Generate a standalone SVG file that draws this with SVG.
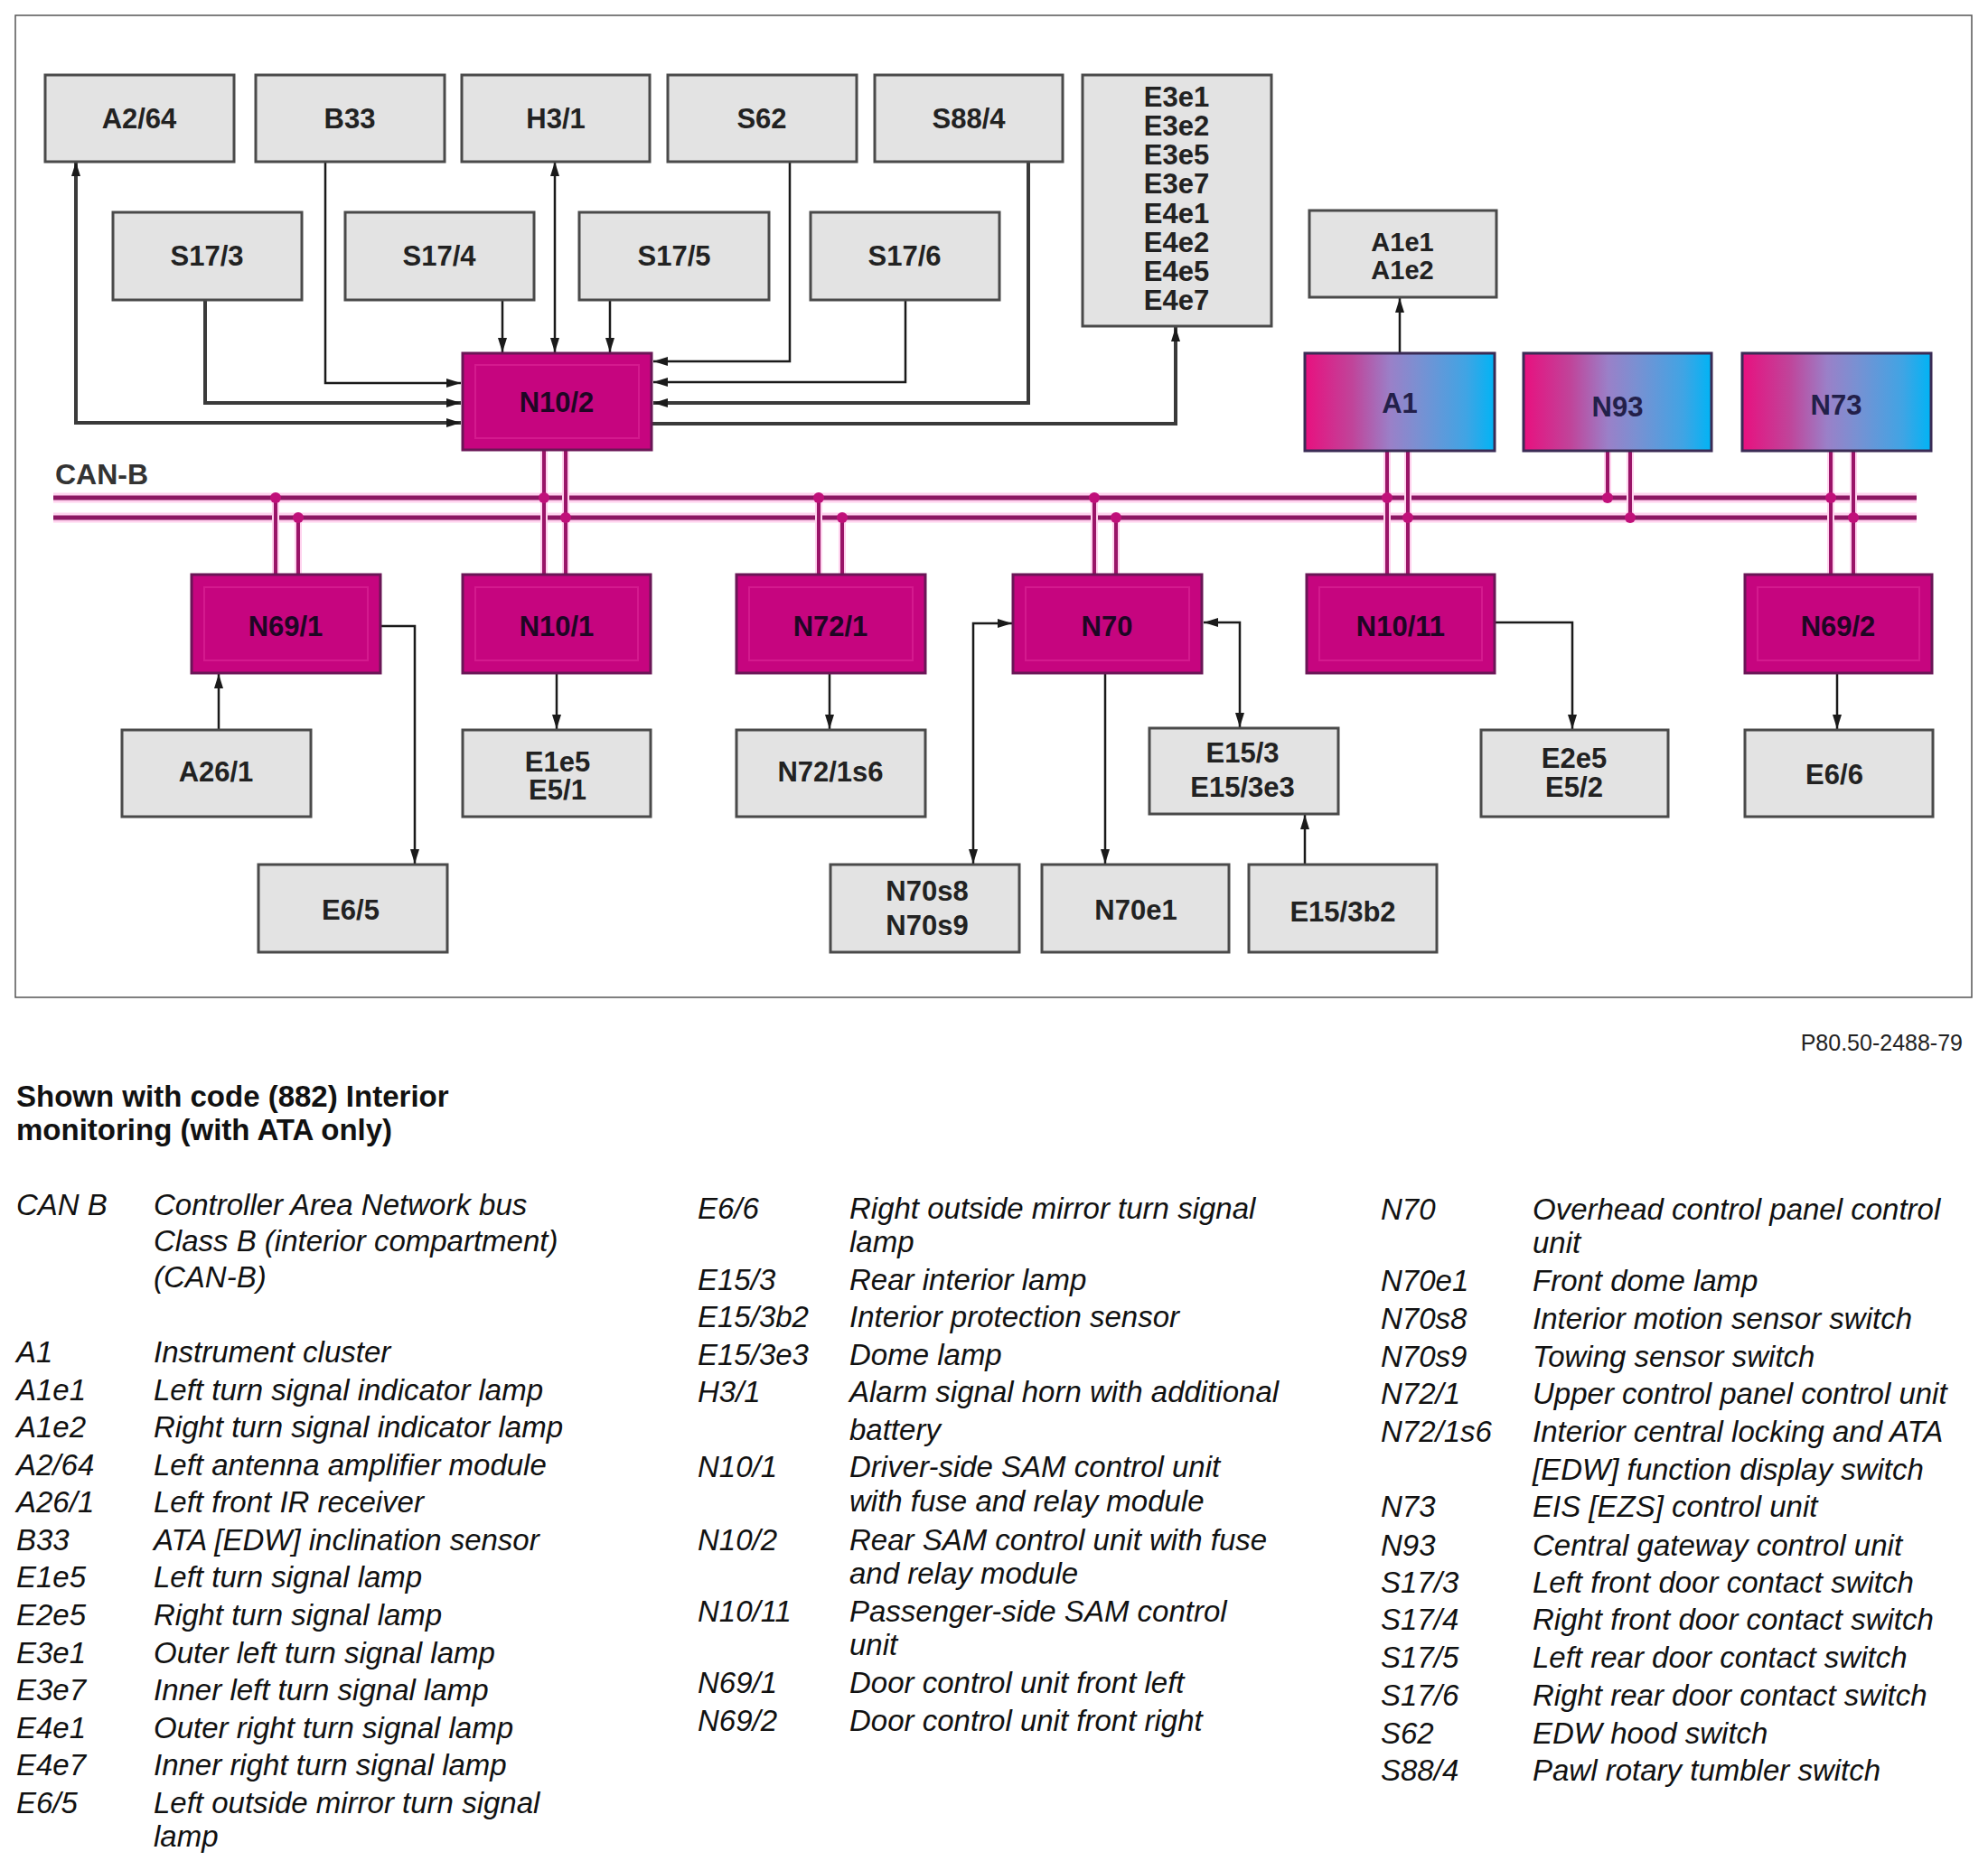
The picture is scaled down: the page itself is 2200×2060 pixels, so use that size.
<svg xmlns="http://www.w3.org/2000/svg" width="2200" height="2060" viewBox="0 0 2200 2060">
<style>
.g{fill:#e3e3e3;stroke:#4a4a4a;stroke-width:3}
.m{fill:#c6057f;stroke:#6a1656;stroke-width:3}
.mi{fill:none;stroke:#e2309e;stroke-width:2;opacity:0.5}
.gr{fill:url(#grad);stroke:#3a2b55;stroke-width:3}
.lbl{font-family:"Liberation Sans",Arial,sans-serif;font-weight:bold;font-size:31px;text-anchor:middle;fill:#222}
.c{fill:none;stroke:#1a1a1a;stroke-width:2.5}
.ct{fill:none;stroke:#3a3a3a;stroke-width:4}
.halo{stroke:#ffd2ee;stroke-width:11;fill:none}
.bus{stroke:#8c1763;stroke-width:5;fill:none}
.vh{stroke:#ffd2ee;stroke-width:8;fill:none}
.v{stroke:#9a1468;stroke-width:4;fill:none}
.dot{fill:#c0107a}
.leg{font-family:"Liberation Sans",Arial,sans-serif;font-style:italic;font-size:33px;fill:#111}
.ttl{font-family:"Liberation Sans",Arial,sans-serif;font-weight:bold;font-size:33px;fill:#111}
</style>
<defs>
<linearGradient id="grad" x1="0" y1="0" x2="1" y2="0">
<stop offset="0" stop-color="#e8107f"/>
<stop offset="0.25" stop-color="#c0449a"/>
<stop offset="0.45" stop-color="#9a80c8"/>
<stop offset="0.6" stop-color="#7a90d2"/>
<stop offset="0.85" stop-color="#40a4e4"/>
<stop offset="1" stop-color="#00b4f5"/>
</linearGradient>
<marker id="arr" viewBox="0 0 16 10" refX="16" refY="5" markerWidth="16" markerHeight="10" markerUnits="userSpaceOnUse" orient="auto-start-reverse">
<path d="M0,0 L16,5 L0,10 Z" fill="#1a1a1a"/>
</marker>
</defs>
<rect x="0" y="0" width="2200" height="2060" fill="#ffffff"/>
<rect x="17" y="17" width="2165" height="1087" fill="none" stroke="#555" stroke-width="1.5"/>

<g id="can-bus">
<line class="halo" x1="59" y1="551" x2="2121" y2="551"/>
<line class="halo" x1="59" y1="573" x2="2121" y2="573"/>
<line class="bus" x1="59" y1="551" x2="2121" y2="551"/>
<line class="bus" x1="59" y1="573" x2="2121" y2="573"/>
<text x="61" y="536" class="lbl" style="text-anchor:start;font-size:32px;fill:#333">CAN-B</text>
</g>

<g id="bus-taps">
<path class="vh" d="M305,551V636M330,573V636M602,498V636M626,498V636M906,551V636M932,573V636M1211,551V636M1235,573V636M1535,500V636M1558,500V636M1779,500V551M1804,500V573M2026,500V636M2051,500V636"/>
<path class="v" d="M305,551V636M330,573V636M602,498V636M626,498V636M906,551V636M932,573V636M1211,551V636M1235,573V636M1535,500V636M1558,500V636M1779,500V551M1804,500V573M2026,500V636M2051,500V636"/>
<circle class="dot" cx="305" cy="551" r="6"/><circle class="dot" cx="330" cy="573" r="6"/>
<circle class="dot" cx="602" cy="551" r="6"/><circle class="dot" cx="626" cy="573" r="6"/>
<circle class="dot" cx="906" cy="551" r="6"/><circle class="dot" cx="932" cy="573" r="6"/>
<circle class="dot" cx="1211" cy="551" r="6"/><circle class="dot" cx="1235" cy="573" r="6"/>
<circle class="dot" cx="1535" cy="551" r="6"/><circle class="dot" cx="1558" cy="573" r="6"/>
<circle class="dot" cx="1779" cy="551" r="6"/><circle class="dot" cx="1804" cy="573" r="6"/>
<circle class="dot" cx="2026" cy="551" r="6"/><circle class="dot" cx="2051" cy="573" r="6"/>
</g>

<g id="connectors">
<path class="ct" d="M84,179 V468 H510" marker-start="url(#arr)" marker-end="url(#arr)"/>
<path class="c" d="M360,179 V424 H510" marker-end="url(#arr)"/>
<path class="ct" d="M227,332 V446 H510" marker-end="url(#arr)"/>
<path class="c" d="M556,332 V390" marker-end="url(#arr)"/>
<path class="c" d="M614,179 V390" marker-start="url(#arr)" marker-end="url(#arr)"/>
<path class="c" d="M675,332 V390" marker-end="url(#arr)"/>
<path class="c" d="M874,179 V400 H723" marker-end="url(#arr)"/>
<path class="c" d="M1002,332 V423 H723" marker-end="url(#arr)"/>
<path class="ct" d="M1138,179 V446 H723" marker-end="url(#arr)"/>
<path class="ct" d="M722,469 H1301 V362" marker-end="url(#arr)"/>
<path class="c" d="M1549,391 V330" marker-end="url(#arr)"/>
<path class="c" d="M242,808 V746" marker-end="url(#arr)"/>
<path class="c" d="M422,693 H459 V956" marker-end="url(#arr)"/>
<path class="c" d="M616,745 V807" marker-end="url(#arr)"/>
<path class="c" d="M918,745 V807" marker-end="url(#arr)"/>
<path class="c" d="M1120,690 H1077 V956" marker-start="url(#arr)" marker-end="url(#arr)"/>
<path class="c" d="M1223,745 V956" marker-end="url(#arr)"/>
<path class="c" d="M1332,689 H1372 V805" marker-start="url(#arr)" marker-end="url(#arr)"/>
<path class="c" d="M1444,957 V902" marker-end="url(#arr)"/>
<path class="c" d="M1655,689 H1740 V807" marker-end="url(#arr)"/>
<path class="c" d="M2033,745 V807" marker-end="url(#arr)"/>
</g>

<g id="A2-64"><rect class="g" x="50" y="83" width="209" height="96"/><text class="lbl" x="154" y="142">A2/64</text></g>
<g id="B33"><rect class="g" x="283" y="83" width="209" height="96"/><text class="lbl" x="387" y="142">B33</text></g>
<g id="H3-1"><rect class="g" x="511" y="83" width="208" height="96"/><text class="lbl" x="615" y="142">H3/1</text></g>
<g id="S62"><rect class="g" x="739" y="83" width="209" height="96"/><text class="lbl" x="843" y="142">S62</text></g>
<g id="S88-4"><rect class="g" x="968" y="83" width="208" height="96"/><text class="lbl" x="1072" y="142">S88/4</text></g>
<g id="E3e1-group"><rect class="g" x="1198" y="83" width="209" height="278"/>
<text class="lbl" x="1302" y="118">E3e1</text>
<text class="lbl" x="1302" y="150">E3e2</text>
<text class="lbl" x="1302" y="182">E3e5</text>
<text class="lbl" x="1302" y="214">E3e7</text>
<text class="lbl" x="1302" y="247">E4e1</text>
<text class="lbl" x="1302" y="279">E4e2</text>
<text class="lbl" x="1302" y="311">E4e5</text>
<text class="lbl" x="1302" y="343">E4e7</text>
</g>

<g id="S17-3"><rect class="g" x="125" y="235" width="209" height="97"/><text class="lbl" x="229" y="294">S17/3</text></g>
<g id="S17-4"><rect class="g" x="382" y="235" width="209" height="97"/><text class="lbl" x="486" y="294">S17/4</text></g>
<g id="S17-5"><rect class="g" x="641" y="235" width="210" height="97"/><text class="lbl" x="746" y="294">S17/5</text></g>
<g id="S17-6"><rect class="g" x="897" y="235" width="209" height="97"/><text class="lbl" x="1001" y="294">S17/6</text></g>

<g id="A1e1-group"><rect class="g" x="1449" y="233" width="207" height="96"/>
<text class="lbl" x="1552" y="278" style="font-size:29px">A1e1</text><text class="lbl" x="1552" y="309" style="font-size:29px">A1e2</text></g>

<g id="N10-2"><rect class="m" x="512" y="391" width="209" height="107"/><rect class="mi" x="526" y="404" width="181" height="81"/><text class="lbl" x="616" y="456" fill="#1e0624" style="fill:#1e0624">N10/2</text></g>
<g id="A1"><rect class="gr" x="1444" y="391" width="210" height="108"/><text class="lbl" x="1549" y="457" style="fill:#23204a">A1</text></g>
<g id="N93"><rect class="gr" x="1686" y="391" width="208" height="108"/><text class="lbl" x="1790" y="461" style="fill:#23204a">N93</text></g>
<g id="N73"><rect class="gr" x="1928" y="391" width="209" height="108"/><text class="lbl" x="2032" y="459" style="fill:#23204a">N73</text></g>

<g id="N69-1"><rect class="m" x="212" y="636" width="209" height="109"/><rect class="mi" x="226" y="650" width="181" height="81"/><text class="lbl" x="316" y="704" style="fill:#1e0624">N69/1</text></g>
<g id="N10-1"><rect class="m" x="512" y="636" width="208" height="109"/><rect class="mi" x="526" y="650" width="180" height="81"/><text class="lbl" x="616" y="704" style="fill:#1e0624">N10/1</text></g>
<g id="N72-1"><rect class="m" x="815" y="636" width="209" height="109"/><rect class="mi" x="829" y="650" width="181" height="81"/><text class="lbl" x="919" y="704" style="fill:#1e0624">N72/1</text></g>
<g id="N70"><rect class="m" x="1121" y="636" width="209" height="109"/><rect class="mi" x="1135" y="650" width="181" height="81"/><text class="lbl" x="1225" y="704" style="fill:#1e0624">N70</text></g>
<g id="N10-11"><rect class="m" x="1446" y="636" width="208" height="109"/><rect class="mi" x="1460" y="650" width="180" height="81"/><text class="lbl" x="1550" y="704" style="fill:#1e0624">N10/11</text></g>
<g id="N69-2"><rect class="m" x="1931" y="636" width="207" height="109"/><rect class="mi" x="1945" y="650" width="179" height="81"/><text class="lbl" x="2034" y="704" style="fill:#1e0624">N69/2</text></g>

<g id="A26-1"><rect class="g" x="135" y="808" width="209" height="96"/><text class="lbl" x="239" y="865">A26/1</text></g>
<g id="E1e5-group"><rect class="g" x="512" y="808" width="208" height="96"/><text class="lbl" x="617" y="854">E1e5</text><text class="lbl" x="617" y="885">E5/1</text></g>
<g id="N72-1s6"><rect class="g" x="815" y="808" width="209" height="96"/><text class="lbl" x="919" y="865">N72/1s6</text></g>
<g id="E15-3-group"><rect class="g" x="1272" y="806" width="209" height="95"/><text class="lbl" x="1375" y="844">E15/3</text><text class="lbl" x="1375" y="882">E15/3e3</text></g>
<g id="E2e5-group"><rect class="g" x="1639" y="808" width="207" height="96"/><text class="lbl" x="1742" y="850">E2e5</text><text class="lbl" x="1742" y="882">E5/2</text></g>
<g id="E6-6"><rect class="g" x="1931" y="808" width="208" height="96"/><text class="lbl" x="2030" y="868">E6/6</text></g>

<g id="E6-5"><rect class="g" x="286" y="957" width="209" height="97"/><text class="lbl" x="388" y="1018">E6/5</text></g>
<g id="N70s8-group"><rect class="g" x="919" y="957" width="209" height="97"/><text class="lbl" x="1026" y="997">N70s8</text><text class="lbl" x="1026" y="1035">N70s9</text></g>
<g id="N70e1"><rect class="g" x="1153" y="957" width="207" height="97"/><text class="lbl" x="1257" y="1018">N70e1</text></g>
<g id="E15-3b2"><rect class="g" x="1382" y="957" width="208" height="97"/><text class="lbl" x="1486" y="1020">E15/3b2</text></g>

<g id="legend">
<text x="2172" y="1163" style="font-family:'Liberation Sans',Arial,sans-serif;font-size:25px;fill:#222;text-anchor:end">P80.50-2488-79</text>
<text class="ttl" x="18" y="1225">Shown with code (882) Interior</text>
<text class="ttl" x="18" y="1262">monitoring (with ATA only)</text>

<text class="leg" x="18" y="1345">CAN B</text>
<text class="leg" x="170" y="1345">Controller Area Network bus</text>
<text class="leg" x="170" y="1385">Class B (interior compartment)</text>
<text class="leg" x="170" y="1425">(CAN-B)</text>
<text class="leg" x="18" y="1508">A1</text><text class="leg" x="170" y="1508">Instrument cluster</text>
<text class="leg" x="18" y="1550">A1e1</text><text class="leg" x="170" y="1550">Left turn signal indicator lamp</text>
<text class="leg" x="18" y="1591">A1e2</text><text class="leg" x="170" y="1591">Right turn signal indicator lamp</text>
<text class="leg" x="18" y="1633">A2/64</text><text class="leg" x="170" y="1633">Left antenna amplifier module</text>
<text class="leg" x="18" y="1674">A26/1</text><text class="leg" x="170" y="1674">Left front IR receiver</text>
<text class="leg" x="18" y="1716">B33</text><text class="leg" x="170" y="1716">ATA [EDW] inclination sensor</text>
<text class="leg" x="18" y="1757">E1e5</text><text class="leg" x="170" y="1757">Left turn signal lamp</text>
<text class="leg" x="18" y="1799">E2e5</text><text class="leg" x="170" y="1799">Right turn signal lamp</text>
<text class="leg" x="18" y="1841">E3e1</text><text class="leg" x="170" y="1841">Outer left turn signal lamp</text>
<text class="leg" x="18" y="1882">E3e7</text><text class="leg" x="170" y="1882">Inner left turn signal lamp</text>
<text class="leg" x="18" y="1924">E4e1</text><text class="leg" x="170" y="1924">Outer right turn signal lamp</text>
<text class="leg" x="18" y="1965">E4e7</text><text class="leg" x="170" y="1965">Inner right turn signal lamp</text>
<text class="leg" x="18" y="2007">E6/5</text><text class="leg" x="170" y="2007">Left outside mirror turn signal</text>
<text class="leg" x="170" y="2044">lamp</text>

<text class="leg" x="772" y="1349">E6/6</text><text class="leg" x="940" y="1349">Right outside mirror turn signal</text>
<text class="leg" x="940" y="1386">lamp</text>
<text class="leg" x="772" y="1428">E15/3</text><text class="leg" x="940" y="1428">Rear interior lamp</text>
<text class="leg" x="772" y="1469">E15/3b2</text><text class="leg" x="940" y="1469">Interior protection sensor</text>
<text class="leg" x="772" y="1511">E15/3e3</text><text class="leg" x="940" y="1511">Dome lamp</text>
<text class="leg" x="772" y="1552">H3/1</text><text class="leg" x="940" y="1552">Alarm signal horn with additional</text>
<text class="leg" x="940" y="1594">battery</text>
<text class="leg" x="772" y="1635">N10/1</text><text class="leg" x="940" y="1635">Driver-side SAM control unit</text>
<text class="leg" x="940" y="1673">with fuse and relay module</text>
<text class="leg" x="772" y="1716">N10/2</text><text class="leg" x="940" y="1716">Rear SAM control unit with fuse</text>
<text class="leg" x="940" y="1753">and relay module</text>
<text class="leg" x="772" y="1795">N10/11</text><text class="leg" x="940" y="1795">Passenger-side SAM control</text>
<text class="leg" x="940" y="1832">unit</text>
<text class="leg" x="772" y="1874">N69/1</text><text class="leg" x="940" y="1874">Door control unit front left</text>
<text class="leg" x="772" y="1916">N69/2</text><text class="leg" x="940" y="1916">Door control unit front right</text>

<text class="leg" x="1528" y="1350">N70</text><text class="leg" x="1696" y="1350">Overhead control panel control</text>
<text class="leg" x="1696" y="1387">unit</text>
<text class="leg" x="1528" y="1429">N70e1</text><text class="leg" x="1696" y="1429">Front dome lamp</text>
<text class="leg" x="1528" y="1471">N70s8</text><text class="leg" x="1696" y="1471">Interior motion sensor switch</text>
<text class="leg" x="1528" y="1513">N70s9</text><text class="leg" x="1696" y="1513">Towing sensor switch</text>
<text class="leg" x="1528" y="1554">N72/1</text><text class="leg" x="1696" y="1554">Upper control panel control unit</text>
<text class="leg" x="1528" y="1596">N72/1s6</text><text class="leg" x="1696" y="1596">Interior central locking and ATA</text>
<text class="leg" x="1696" y="1638">[EDW] function display switch</text>
<text class="leg" x="1528" y="1679">N73</text><text class="leg" x="1696" y="1679">EIS [EZS] control unit</text>
<text class="leg" x="1528" y="1722">N93</text><text class="leg" x="1696" y="1722">Central gateway control unit</text>
<text class="leg" x="1528" y="1763">S17/3</text><text class="leg" x="1696" y="1763">Left front door contact switch</text>
<text class="leg" x="1528" y="1804">S17/4</text><text class="leg" x="1696" y="1804">Right front door contact switch</text>
<text class="leg" x="1528" y="1846">S17/5</text><text class="leg" x="1696" y="1846">Left rear door contact switch</text>
<text class="leg" x="1528" y="1888">S17/6</text><text class="leg" x="1696" y="1888">Right rear door contact switch</text>
<text class="leg" x="1528" y="1930">S62</text><text class="leg" x="1696" y="1930">EDW hood switch</text>
<text class="leg" x="1528" y="1971">S88/4</text><text class="leg" x="1696" y="1971">Pawl rotary tumbler switch</text>
</g>
</svg>
